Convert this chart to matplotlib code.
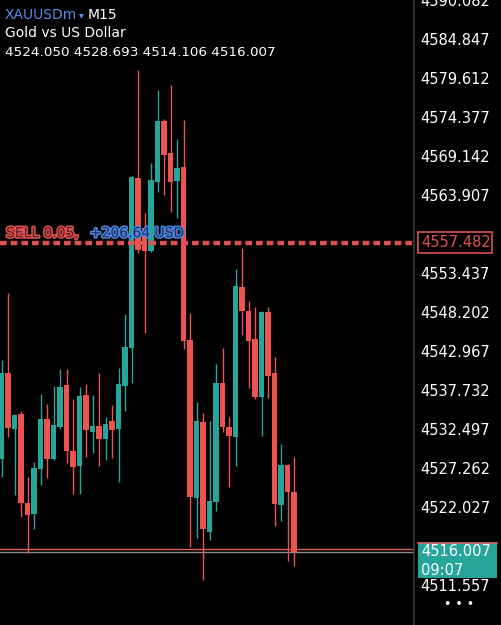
import numpy as np
import matplotlib
matplotlib.use("Agg")
import matplotlib.pyplot as plt
import matplotlib.transforms as mtransforms
import matplotlib.patheffects as pe
from matplotlib.patches import Rectangle

# M15 candles (oldest -> newest)
opens = [4528.47, 4540.01, 4532.50, 4534.51, 4522.56, 4521.09, 4527.13, 4533.84, 4528.47, 4532.77,
         4538.40, 4529.54, 4527.53, 4537.06, 4532.09, 4532.90, 4531.15, 4533.57, 4532.50, 4538.27,
         4543.37, 4566.19, 4559.48, 4556.39, 4565.65, 4573.84, 4569.54, 4565.78, 4567.67, 4544.44,
         4523.23, 4533.44, 4518.67, 4522.70, 4538.67, 4532.77, 4531.42, 4551.56, 4548.34, 4544.58,
         4536.79, 4548.20, 4540.01, 4522.30, 4527.66, 4524.050]
highs = [4541.76, 4550.75, 4534.50, 4534.91, 4526.05, 4528.07, 4537.19, 4535.85, 4538.27, 4540.55,
         4540.55, 4536.52, 4538.13, 4538.54, 4537.06, 4540.01, 4534.11, 4535.72, 4540.68, 4547.93,
         4566.45, 4580.69, 4561.49, 4568.20, 4578.00, 4574.10, 4578.67, 4571.42, 4573.97, 4548.07,
         4536.12, 4534.64, 4533.57, 4541.22, 4543.37, 4534.11, 4553.97, 4556.79, 4549.68, 4548.87,
         4548.40, 4548.87, 4542.16, 4530.48, 4527.80, 4528.693]
lows = [4526.05, 4531.42, 4523.64, 4520.68, 4515.85, 4519.07, 4524.98, 4525.92, 4528.33, 4532.50,
        4527.93, 4523.77, 4523.77, 4528.74, 4529.27, 4527.53, 4528.33, 4528.60, 4525.38, 4534.91,
        4538.67, 4556.12, 4545.38, 4556.26, 4564.31, 4563.91, 4561.62, 4560.82, 4543.23, 4516.66,
        4517.86, 4512.23, 4517.60, 4521.49, 4532.09, 4524.71, 4527.53, 4545.11, 4538.00, 4536.50,
        4531.56, 4536.66, 4519.48, 4520.15, 4514.78, 4514.106]
closes = [4540.01, 4532.63, 4534.37, 4522.56, 4520.95, 4527.26, 4533.84, 4528.47, 4533.03, 4538.13,
          4529.54, 4527.40, 4536.92, 4532.36, 4532.90, 4531.15, 4533.17, 4532.36, 4538.54, 4543.50,
          4566.32, 4556.52, 4556.39, 4565.92, 4573.84, 4569.27, 4565.65, 4567.53, 4544.31, 4523.37,
          4533.57, 4519.07, 4522.83, 4538.67, 4532.77, 4531.56, 4551.69, 4548.34, 4544.31, 4536.79,
          4548.20, 4539.61, 4522.43, 4527.66, 4524.05, 4516.007]

bid = 4516.007
ask = 4516.35
sell_price = 4557.482
tick_top = 4590.082
tick_step = 5.235

GREEN = "#26a69a"
RED = "#ef5350"

W, H = 501, 625
fig = plt.figure(figsize=(W / 100, H / 100), dpi=100, facecolor="black")
axw = 414
ax = fig.add_axes([0, 0, axw / W, 1])
ax.set_facecolor("black")

o = np.array(opens); h = np.array(highs); l = np.array(lows); c = np.array(closes)
x = np.arange(len(o))
up = c >= o
cols = np.where(up, GREEN, RED)

ax.vlines(x, l, h, colors=cols, linewidth=1.0, zorder=2)
body_lo = np.minimum(o, c)
body_h = np.maximum(np.abs(c - o), 0.15)
ax.bar(x, body_h, bottom=body_lo, width=0.78, color=cols, linewidth=0, zorder=3)

# bid / ask lines
ax.axhline(ask, color="#d9645f", lw=1.0, zorder=1)
ax.axhline(bid, color="#8c8c8c", lw=1.0, zorder=1)

# open sell position
ax.axhline(sell_price, color="#e0524f", lw=3.2, linestyle=(0, (1.5, 0.9)), zorder=4)
ax.text(0.7, sell_price + 1.3, "SELL 0.05,", color="#5e1c1c", fontsize=10,
        path_effects=[pe.withStroke(linewidth=2.2, foreground="#e0524f")], va="center", zorder=5)
ax.text(13.6, sell_price + 1.3, "+206.64 USD", color="#1c2f5e", fontsize=10,
        path_effects=[pe.withStroke(linewidth=2.2, foreground="#4f86e0")], va="center", zorder=5)

# axes / scale
ax.set_xlim(-1.5 / 6.5, (axw - 1.5) / 6.5)
ax.set_ylim(tick_top - H * tick_step / 39, tick_top)
ticks = [tick_top - k * tick_step for k in range(16)]
labels = [f"{t:.3f}" for t in ticks]
# labels hidden behind the price boxes
labels[6] = ""
labels[14] = ""
ax.set_yticks(ticks)
ax.set_yticklabels(labels)
ax.yaxis.tick_right()
ax.tick_params(axis="y", length=0, pad=4.3, labelcolor="white", labelsize=10.5)
ax.set_xticks([])
for s in ["top", "bottom", "left"]:
    ax.spines[s].set_visible(False)
ax.spines["right"].set_color("#3c3c3c")
ax.spines["right"].set_linewidth(1.2)

# price boxes on the scale
tr = mtransforms.blended_transform_factory(ax.transAxes, ax.transData)
ax.add_patch(Rectangle((418 / axw, 4556.12), 74 / axw, 2.82, transform=tr, clip_on=False,
                       facecolor="black", edgecolor="#d9534f", lw=1.2, zorder=6))
ax.text(421 / axw, sell_price, f"{sell_price:.3f}", transform=tr, color="#e0524f",
        fontsize=10.5, va="center", ha="left", clip_on=False, zorder=7)

ax.add_patch(Rectangle((418 / axw, 4512.50), 79 / axw, 4.69, transform=tr, clip_on=False,
                       facecolor=GREEN, edgecolor="none", zorder=6))
ax.plot([418 / axw, 497 / axw], [4517.19, 4517.19], transform=tr, color="#d9645f", lw=1.2,
        clip_on=False, zorder=7)
ax.text(421 / axw, bid, f"{bid:.3f}", transform=tr, color="white",
        fontsize=10.5, va="center", ha="left", clip_on=False, zorder=7)
ax.text(421 / axw, bid - 2.5, "09:07", transform=tr, color="white",
        fontsize=10.5, va="center", ha="left", clip_on=False, zorder=7)

# header
fig.text(5 / W, 1 - 15 / H, "XAUUSDm", color="#5b8be8", fontsize=10, va="center")
fig.text(79 / W, 1 - 15 / H, "▾", color="#5b8be8", fontsize=7, va="center")
fig.text(88 / W, 1 - 15 / H, "M15", color="white", fontsize=10, va="center")
fig.text(5 / W, 1 - 33 / H, "Gold vs US Dollar", color="white", fontsize=10, va="center")
fig.text(5 / W, 1 - 52 / H,
         f"{opens[-1]:.3f} {highs[-1]:.3f} {lows[-1]:.3f} {closes[-1]:.3f}",
         color="white", fontsize=9.7, va="center")
fig.text(459 / W, 1 - 605 / H, "• • •", color="white", fontsize=9, ha="center", va="center")

fig.savefig("out.png", dpi=100, facecolor="black")
